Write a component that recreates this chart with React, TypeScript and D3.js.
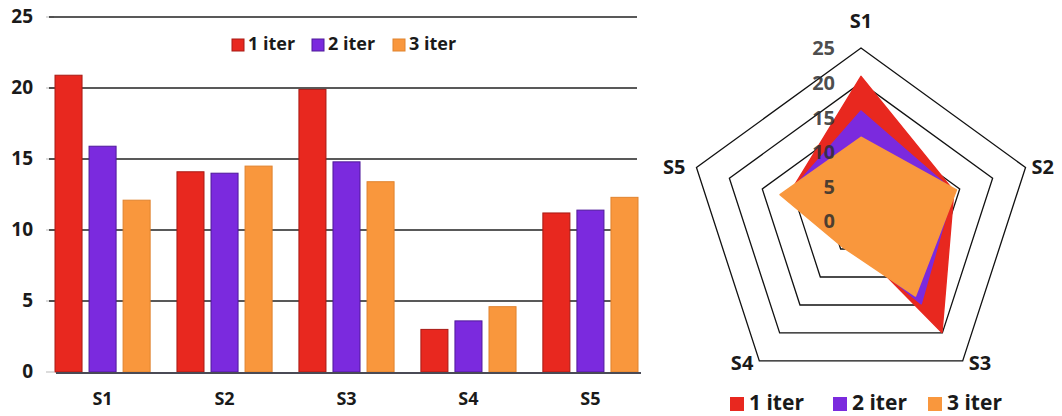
import React from "react";
import * as d3 from "d3";

const categories = ["S1", "S2", "S3", "S4", "S5"];
const seriesNames = ["1 iter", "2 iter", "3 iter"];
const iter1 = [20.9, 14.1, 19.9, 3.0, 11.2];
const iter2 = [15.9, 14.0, 14.8, 3.6, 11.4];
const iter3 = [12.1, 14.5, 13.4, 4.6, 12.3];
const yTicks = [0, 5, 10, 15, 20, 25];
const ringValues = [5, 10, 15, 20, 25];

const seriesValues = [iter1, iter2, iter3];
const fills = ["#e8281f", "#7b2ade", "#f9973d"];
const strokes = ["#a81a14", "#4f1a9a", "#e0832e"];

const FONT = "'Open Sans', Lato, sans-serif";

export default function App() {
  // ---- bar chart ----
  const y = d3.scaleLinear().domain([0, 25]).range([372, 17]);
  const x0 = d3.scaleBand<string>().domain(categories).range([55, 638]).paddingInner(0.22);
  const x1 = d3
    .scaleBand<number>()
    .domain([0, 1, 2])
    .range([0, x0.bandwidth()])
    .paddingInner(0.206);

  const legendX = [232, 312, 393];

  // ---- radar ----
  const cx = 861;
  const cy = 221;
  const R = 173;
  const r = d3.scaleLinear().domain([0, 25]).range([0, R]);
  const ang = (i: number) => (i * 2 * Math.PI) / categories.length;
  const pt = (i: number, v: number): [number, number] => [
    cx + r(v) * Math.sin(ang(i)),
    cy - r(v) * Math.cos(ang(i)),
  ];
  const closed = d3.line<[number, number]>().curve(d3.curveLinearClosed);

  const radarLegendX = [730, 833, 928];

  return (
    <svg
      width={1062}
      height={416}
      style={{ position: "absolute", left: 0, top: 0, background: "#fff" }}
      fontFamily={FONT}
    >
      {/* gridlines */}
      {yTicks.map((t) => (
        <g key={"g" + t}>
          <line x1={46} x2={54} y1={y(t)} y2={y(t)} stroke="#d0d0d0" strokeWidth={1.5} />
          {t > 0 && (
            <line x1={49} x2={637} y1={y(t)} y2={y(t)} stroke="#222" strokeWidth={1.4} />
          )}
        </g>
      ))}
      {/* bars */}
      {categories.map((c, ci) => (
        <g key={c} transform={`translate(${x0(c)},0)`}>
          {seriesValues.map((vals, si) => (
            <rect
              key={si}
              x={x1(si)}
              y={y(vals[ci])}
              width={x1.bandwidth()}
              height={y(0) - y(vals[ci])}
              fill={fills[si]}
              stroke={strokes[si]}
              strokeWidth={1}
            />
          ))}
        </g>
      ))}
      <line x1={56} x2={641} y1={y(0) + 1} y2={y(0) + 1} stroke="#4a4a55" strokeWidth={2} />
      {/* y labels */}
      {yTicks.map((t) => (
        <text
          key={"t" + t}
          x={33}
          y={y(t) + 1}
          textAnchor="end"
          dominantBaseline="middle"
          fontSize={19}
          fontWeight={700}
          fill="#1a1a1a"
        >
          {t}
        </text>
      ))}
      {/* x labels */}
      {categories.map((c) => (
        <text
          key={"x" + c}
          x={(x0(c) as number) + x0.bandwidth() / 2}
          y={400}
          textAnchor="middle"
          dominantBaseline="middle"
          fontSize={18}
          fontWeight={700}
          fill="#1a1a1a"
        >
          {c}
        </text>
      ))}
      {/* top legend */}
      {seriesNames.map((s, i) => (
        <g key={"l" + s}>
          <rect
            x={legendX[i]}
            y={39}
            width={12}
            height={12}
            fill={fills[i]}
            stroke={strokes[i]}
            strokeWidth={1}
          />
          <text
            x={legendX[i] + 16}
            y={45.5}
            dominantBaseline="middle"
            fontSize={18}
            fontWeight={700}
            fill="#1a1a1a"
          >
            {s}
          </text>
        </g>
      ))}

      {/* radar rings */}
      {ringValues.map((v) => (
        <path
          key={"ring" + v}
          d={closed(categories.map((_, i) => pt(i, v))) as string}
          fill="none"
          stroke="#111"
          strokeWidth={1.3}
        />
      ))}
      {/* radar polygons */}
      {seriesValues.map((vals, si) => (
        <path
          key={"poly" + si}
          d={closed(vals.map((v, i) => pt(i, v))) as string}
          fill={fills[si]}
          stroke={fills[si]}
          strokeWidth={1.5}
          strokeLinejoin="round"
        />
      ))}
      {/* radar tick labels */}
      {yTicks.map((t) => (
        <text
          key={"rt" + t}
          x={835}
          y={cy - r(t) + 2}
          textAnchor="end"
          dominantBaseline="middle"
          fontSize={20}
          fontWeight={700}
          fill="#2e2e2e"
          fillOpacity={0.85}
        >
          {t}
        </text>
      ))}
      {/* radar category labels */}
      {categories.map((c, i) => {
        const [vx, vy] = pt(i, 25);
        const s = Math.sin(ang(i));
        const co = Math.cos(ang(i));
        let lx = vx;
        let ly = vy - 25;
        let anchor: "start" | "middle" | "end" = "middle";
        if (s > 0.1) {
          anchor = "start";
          lx = vx + 6;
          ly = vy + (co < 0 ? 4 : 1);
        } else if (s < -0.1) {
          anchor = "end";
          lx = vx - (co < 0 ? 6 : 11);
          ly = vy + (co < 0 ? 4 : 1);
        }
        return (
          <text
            key={"rc" + c}
            x={lx}
            y={ly}
            textAnchor={anchor}
            dominantBaseline="middle"
            fontSize={20}
            fontWeight={700}
            fill="#1a1a1a"
          >
            {c}
          </text>
        );
      })}
      {/* radar legend */}
      {seriesNames.map((s, i) => (
        <g key={"rl" + s}>
          <rect x={radarLegendX[i]} y={397} width={14} height={14} fill={fills[i]} />
          <text
            x={radarLegendX[i] + 19}
            y={404.5}
            dominantBaseline="middle"
            fontSize={21}
            fontWeight={700}
            fill="#1a1a1a"
          >
            {s}
          </text>
        </g>
      ))}
    </svg>
  );
}
